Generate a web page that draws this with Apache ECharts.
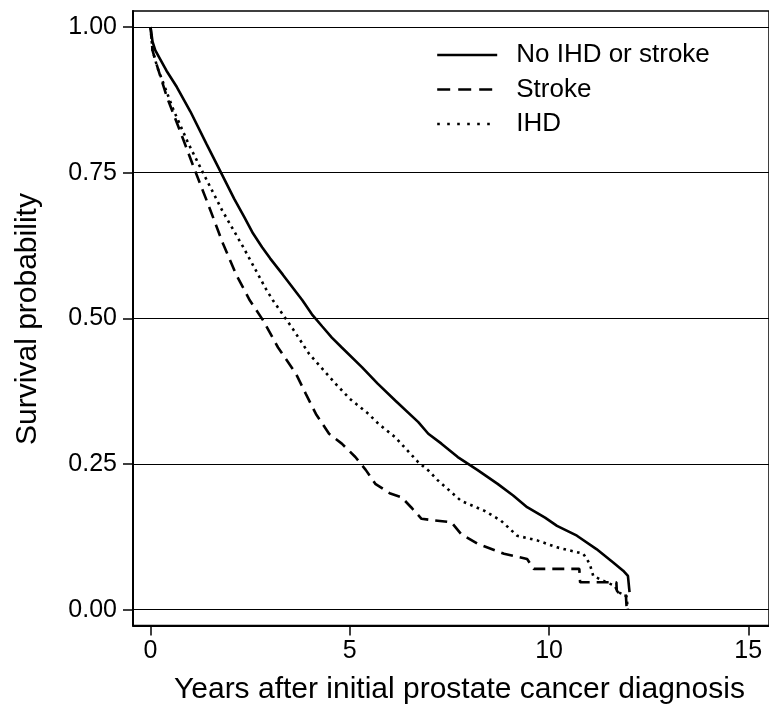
<!DOCTYPE html>
<html>
<head>
<meta charset="utf-8">
<script src="https://cdn.jsdelivr.net/npm/echarts@6/dist/echarts.min.js"></script>
<style>
html,body{margin:0;padding:0;background:#fff;}
#chart{width:769px;height:708px;}
</style>
</head>
<body>
<div id="chart"></div>
<script>
// Data (years, survival probability)
const seriesNames = ['No IHD or stroke', 'Stroke', 'IHD'];
const xTicks = [0, 5, 10, 15];
const yTicks = [0, 0.25, 0.5, 0.75, 1];
const xTitle = 'Years after initial prostate cancer diagnosis';
const yTitle = 'Survival probability';

const noIhdStroke = [
  [0,1],[0.05,0.975],[0.12,0.96],[0.4,0.925],[0.66,0.897],[1.0,0.855],[1.4,0.8],[1.74,0.754],
  [2.1,0.705],[2.35,0.674],[2.57,0.646],[2.8,0.622],[3.0,0.603],[3.32,0.575],[3.81,0.531],
  [4.05,0.507],[4.31,0.486],[4.55,0.467],[4.8,0.45],
  [5.31,0.416],[5.7,0.388],[6.14,0.359],[6.72,0.322],[6.97,0.302],[7.3,0.285],[7.71,0.262],
  [8.2,0.24],[8.71,0.216],[9.1,0.196],[9.45,0.176],[9.9,0.158],[10.2,0.144],[10.7,0.127],
  [11.19,0.104],[11.61,0.081],[11.86,0.067],[11.98,0.058],[12.02,0.058],[12.02,0.03]
];
const stroke = [
  [0,1],[0.05,0.96],[0.12,0.943],[0.41,0.88],[0.75,0.82],[1.08,0.76],[1.45,0.695],[1.82,0.628],
  [2.15,0.575],[2.49,0.531],[2.82,0.497],[3.2,0.45],[3.65,0.405],[3.9,0.37],[4.15,0.336],
  [4.48,0.302],[4.8,0.285],[5.14,0.262],[5.4,0.24],[5.64,0.216],[6.0,0.2],[6.3,0.193],
  [6.55,0.175],[6.8,0.156],[7.55,0.15],[7.79,0.13],[8.21,0.113],[8.87,0.096],[9.45,0.087],
  [9.62,0.07],[10.76,0.07],[10.78,0.047],[11.69,0.047],[11.7,0.033],[11.8,0.024],[11.93,0.024],[11.95,0]
];
const ihd = [
  [0,1],[0.05,0.96],[0.17,0.931],[0.58,0.857],[0.95,0.8],[1.33,0.748],[1.8,0.685],[2.32,0.623],
  [2.9,0.55],[3.07,0.531],[3.57,0.482],[3.98,0.439],[4.64,0.388],[5.0,0.362],[5.47,0.336],
  [5.72,0.319],[6.14,0.296],[6.72,0.253],[6.97,0.239],[7.21,0.222],[7.79,0.187],[8.37,0.17],
  [8.79,0.153],[9.2,0.127],[9.7,0.119],[10.2,0.107],[10.86,0.096],[11.02,0.079],[11.11,0.058],
  [11.44,0.047],[11.65,0.041],[11.73,0.03],[11.94,0.024],[11.98,0]
];

const FONT = '"Liberation Sans", Arial, Helvetica, sans-serif';
const chart = echarts.init(document.getElementById('chart'), null, {renderer:'canvas'});

const option = {
  animation: false,
  backgroundColor: '#fff',
  textStyle: {fontFamily: FONT, color: '#000'},
  grid: {left: 133, top: 11, right: -5, bottom: 82.5, show: true, borderColor: '#000', borderWidth: 1.5, containLabel: false},
  xAxis: {
    type: 'value', min: -0.44, max: 15.52,
    axisLine: {show: true, onZero: false, lineStyle: {color: '#000', width: 2}},
    axisTick: {show: true, inside: false, length: 10, lineStyle: {color: '#000', width: 1.5}, customValues: xTicks},
    axisLabel: {show: true, margin: 13, fontSize: 25, color: '#000', fontFamily: FONT, customValues: xTicks, formatter: v => String(v)},
    splitLine: {show: false}
  },
  yAxis: {
    type: 'value', min: -0.0271, max: 1.0275,
    axisLine: {show: true, onZero: false, lineStyle: {color: '#000', width: 2}},
    axisTick: {show: true, inside: false, length: 10, lineStyle: {color: '#000', width: 1.5}, customValues: yTicks},
    axisLabel: {show: true, margin: 16, fontSize: 25, color: '#000', fontFamily: FONT, customValues: yTicks, formatter: v => v.toFixed(2)},
    splitLine: {show: false}
  },
  legend: {
    orient: 'vertical', left: 431, top: 37,
    itemWidth: 60, itemHeight: 26, itemGap: 8.5,
    itemStyle: {color: 'rgba(0,0,0,0)', borderWidth: 0, opacity: 0},
    textStyle: {fontSize: 26, lineHeight: 26, color: '#000', fontFamily: FONT, padding: [0,0,0,14]},
    data: [
      {name: seriesNames[0], lineStyle: {width: 2.4}},
      {name: seriesNames[1], lineStyle: {type: [13, 8], width: 2.4}},
      {name: seriesNames[2], lineStyle: {type: [2.6, 7.4], width: 2.4}}
    ]
  },
  graphic: [
    {type: 'text', left: 174, top: 675, style: {text: xTitle, font: '30px ' + FONT, fill: '#000'}},
    {type: 'text', x: 28, y: 319, rotation: Math.PI/2, style: {text: yTitle, font: '30px ' + FONT, fill: '#000', align: 'center', verticalAlign: 'middle'}}
  ],
  series: [
    {
      name: seriesNames[0], type: 'line', data: noIhdStroke, showSymbol: false, symbol: 'none',
      lineStyle: {color: '#000', width: 2.6, type: 'solid'}, itemStyle: {color: '#000'}, z: 3,
      markLine: {
        silent: true, symbol: ['none','none'], label: {show: false},
        lineStyle: {color: '#000', width: 1, type: 'solid'},
        data: yTicks.map(v => ({yAxis: v}))
      }
    },
    {
      name: seriesNames[1], type: 'line', data: stroke, showSymbol: false, symbol: 'none',
      lineStyle: {color: '#000', width: 2.6, type: [12, 7]}, itemStyle: {color: '#000'}, z: 3
    },
    {
      name: seriesNames[2], type: 'line', data: ihd, showSymbol: false, symbol: 'none',
      lineStyle: {color: '#000', width: 2.6, type: [2.6, 4.4]}, itemStyle: {color: '#000'}, z: 3
    }
  ]
};
chart.setOption(option);
</script>
</body>
</html>
